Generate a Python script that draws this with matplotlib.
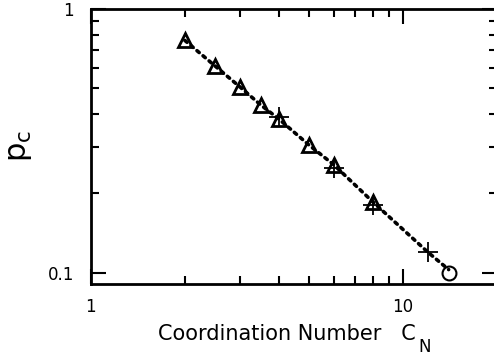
import matplotlib.pyplot as plt
from matplotlib.ticker import LogLocator, FixedLocator, NullFormatter, FixedFormatter

# triangles
tri_cn = [2, 2.5, 3, 3.5, 4, 5, 6, 8]
tri_pc = [0.76, 0.608, 0.507, 0.433, 0.383, 0.305, 0.257, 0.186]
# crosses
plus_cn = [4, 6, 8, 12]
plus_pc = [0.391, 0.25, 0.181, 0.12]
# circle
circ_cn = [14]
circ_pc = [0.1]
# dotted guide line
line_cn = [2, 2.5, 3, 3.5, 4, 5, 6, 8, 12, 14]
line_pc = [0.76, 0.608, 0.507, 0.433, 0.383, 0.305, 0.257, 0.186, 0.12, 0.103]


def main():
    fig = plt.figure(figsize=(4.94, 3.58), dpi=100)
    ax = fig.add_axes([0.184, 0.207, 0.822, 0.768])

    ax.plot(line_cn, line_pc, color='black', linestyle=(0, (0.8, 1.4)),
            linewidth=2.6, dash_capstyle='round', zorder=2)
    ax.plot(tri_cn, tri_pc, linestyle='none', marker='^', markersize=9.5,
            markerfacecolor='none', markeredgecolor='black', markeredgewidth=2.0, zorder=3)
    ax.plot(plus_cn, plus_pc, linestyle='none', marker='+', markersize=15,
            markeredgecolor='black', markeredgewidth=1.3, zorder=3)
    ax.plot(circ_cn, circ_pc, linestyle='none', marker='o', markersize=10,
            markerfacecolor='none', markeredgecolor='black', markeredgewidth=1.5, zorder=3)

    ax.set_xscale('log')
    ax.set_yscale('log')
    ax.set_xlim(1, 20)
    ax.set_ylim(0.0909, 1)

    ax.xaxis.set_major_locator(FixedLocator([1, 10]))
    ax.xaxis.set_major_formatter(FixedFormatter(['1', '10']))
    ax.xaxis.set_minor_locator(LogLocator(base=10, subs=range(2, 10)))
    ax.xaxis.set_minor_formatter(NullFormatter())
    ax.yaxis.set_major_locator(FixedLocator([0.1, 1]))
    ax.yaxis.set_major_formatter(FixedFormatter(['0.1', '1']))
    ax.yaxis.set_minor_locator(LogLocator(base=10, subs=range(2, 10)))
    ax.yaxis.set_minor_formatter(NullFormatter())

    for s in ax.spines.values():
        s.set_linewidth(2.0)
    ax.tick_params(which='both', direction='in', top=True, right=True, width=1.5,
                   labelsize=12)
    ax.tick_params(which='major', length=11)
    ax.tick_params(which='minor', length=5.5)
    ax.tick_params(axis='x', which='major', pad=10)
    ax.tick_params(axis='y', which='major', pad=12)

    # x label with a low-set subscript N
    ax.text(0.165, -0.204, 'Coordination Number   C', transform=ax.transAxes,
            fontsize=15, ha='left', va='baseline')
    ax.text(0.806, -0.248, 'N', transform=ax.transAxes,
            fontsize=12, ha='left', va='baseline')
    ax.set_ylabel(r'p$_\mathregular{c}$', fontsize=22, labelpad=10)

    fig.savefig('out.png', dpi=100)
    plt.close()


if __name__ == '__main__':
    main()
